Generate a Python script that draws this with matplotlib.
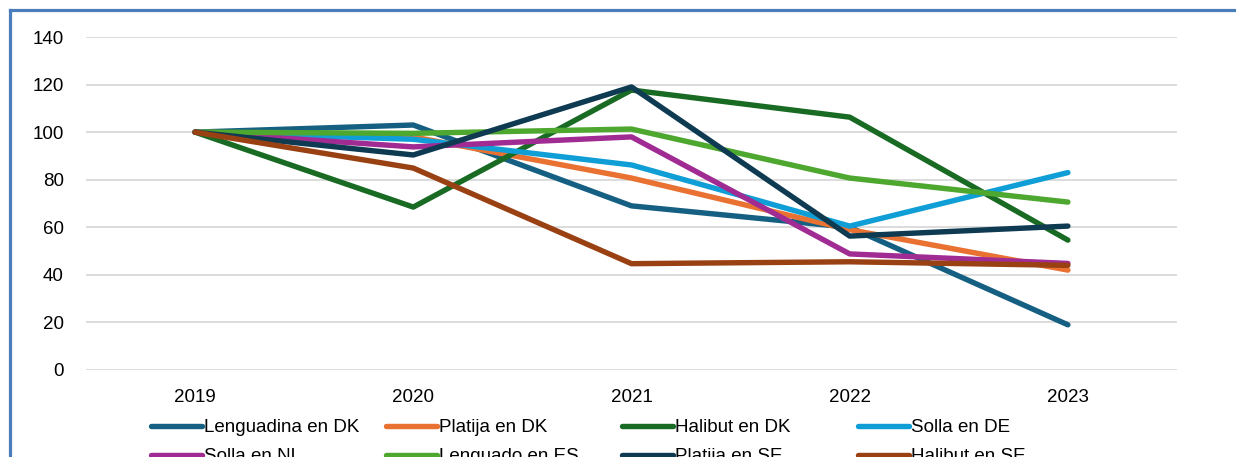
import matplotlib
matplotlib.use("Agg")
import matplotlib.pyplot as plt
from matplotlib.lines import Line2D

plt.rcParams['font.family'] = ['Liberation Sans', 'DejaVu Sans']

years = ["2019", "2020", "2021", "2022", "2023"]

lenguadina_dk = [100, 103, 69, 60, 19]
platija_dk = [100, 98, 80.7, 59, 42]
halibut_dk = [100, 68.5, 117.7, 106.3, 54.6]
solla_de = [100, 97, 86.2, 60.5, 83]
solla_nl = [100, 93.8, 98, 48.8, 44.8]
lenguado_es = [100, 99.5, 101.3, 80.7, 70.6]
platija_se = [100, 90.4, 119, 56.3, 60.5]
halibut_se = [100, 84.9, 44.7, 45.5, 44]

series = [
    ("Lenguadina en DK", lenguadina_dk, "#156082"),
    ("Platija en DK", platija_dk, "#E97132"),
    ("Halibut en DK", halibut_dk, "#196B24"),
    ("Solla en DE", solla_de, "#0F9ED5"),
    ("Solla en NL", solla_nl, "#A02B93"),
    ("Lenguado en ES", lenguado_es, "#4EA72E"),
    ("Platija en SE", platija_se, "#0E3A52"),
    ("Halibut en SE", halibut_se, "#9A4113"),
]

W, H = 1236, 457
fig = plt.figure(figsize=(W / 100, H / 100), dpi=100)
ax = fig.add_axes([86 / W, 1 - 370 / H, (1177 - 86) / W, (370 - 37) / H])

x = range(len(years))
lines = []
for name, vals, col in series:
    ln, = ax.plot(x, vals, color=col, lw=3.9, label=name,
                  solid_capstyle="round", solid_joinstyle="round")
    lines.append(ln)

ax.set_xlim(-0.5, len(years) - 0.5)
ax.set_ylim(0, 140)
ax.set_yticks(range(0, 141, 20))
ax.set_xticks(list(x))
ax.set_xticklabels(years)
ax.grid(axis="y", color="#D9D9D9", lw=1.3)
ax.set_axisbelow(True)
for s in ax.spines.values():
    s.set_visible(False)
ax.tick_params(length=0, labelsize=13.5, colors="black")
ax.tick_params(axis="x", pad=14)
ax.tick_params(axis="y", pad=16)

# legend in four equal-width columns, two entries each
col_x = [151, 386, 622, 858]
for c, x0 in enumerate(col_x):
    idx = [c, c + 4]
    fig.legend([lines[i] for i in idx], [series[i][0] for i in idx],
               loc="upper left", bbox_to_anchor=(x0 / W, 1 - 419 / H), ncol=1,
               frameon=False, fontsize=13.5, handlelength=2.7, handletextpad=0.15,
               labelspacing=0.63, borderaxespad=0, borderpad=0)

# blue chart-area frame
fig.add_artist(Line2D([9.5 / W, 9.5 / W], [0, 1 - 9.5 / H], color="#4A7EBB", lw=2.3,
                      transform=fig.transFigure, solid_capstyle="projecting"))
fig.add_artist(Line2D([9.5 / W, 1], [1 - 9.5 / H, 1 - 9.5 / H], color="#4A7EBB", lw=2.3,
                      transform=fig.transFigure, solid_capstyle="projecting"))

fig.savefig("out.png", dpi=100)
